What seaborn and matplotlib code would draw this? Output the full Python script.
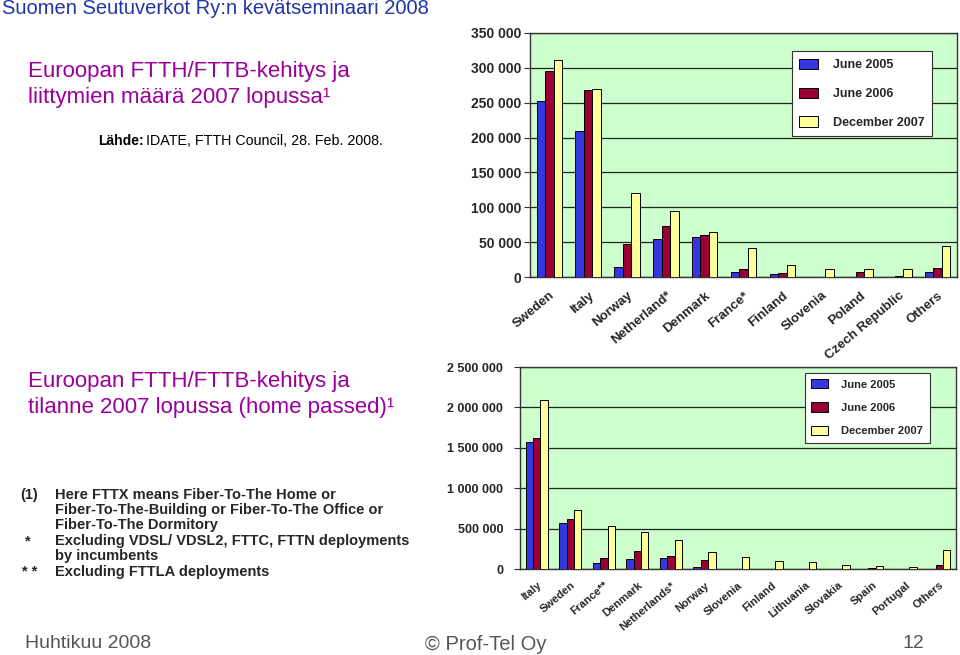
import matplotlib
matplotlib.use("Agg")
import matplotlib.pyplot as plt
import seaborn as sns
import pandas as pd
from matplotlib.ticker import FuncFormatter, FixedLocator

# ---------------- data ----------------
periods = ["June 2005", "June 2006", "December 2007"]

top_countries = ["Sweden", "Italy", "Norway", "Netherland*", "Denmark", "France*",
                 "Finland", "Slovenia", "Poland", "Czech Republic", "Others"]
top_jun2005 = [252000, 210000, 15000, 55000, 57000, 7000, 4000, 0, 0, 0, 7000]
top_jun2006 = [296000, 268000, 47000, 73000, 60000, 11500, 5500, 0, 6700, 1400, 12400]
top_dec2007 = [311000, 269000, 120000, 94000, 64000, 42000, 17000, 11500, 11500, 11500, 44000]
top_ticks = [0, 50000, 100000, 150000, 200000, 250000, 300000, 350000]

bot_countries = ["Italy", "Sweden", "France**", "Denmark", "Netherlands*", "Norway",
                 "Slovenia", "Finland", "Lithuania", "Slovakia", "Spain", "Portugal", "Others"]
bot_jun2005 = [1572000, 571000, 70000, 128000, 136000, 29000, 0, 6000, 0, 0, 6000, 0, 6000]
bot_jun2006 = [1621000, 617000, 136000, 222000, 165000, 111000, 0, 0, 0, 0, 8000, 0, 53000]
bot_dec2007 = [2090000, 732000, 527000, 457000, 354000, 214000, 152000, 95000, 86000, 53000, 41000, 20000, 238000]
bot_ticks = [0, 500000, 1000000, 1500000, 2000000, 2500000]

colors = {"June 2005": "#3636E0", "June 2006": "#990033", "December 2007": "#FFFF99"}


def long_df(cats, a, b, c):
    rows = []
    for p, vals in zip(periods, [a, b, c]):
        for k, v in zip(cats, vals):
            rows.append({"country": k, "period": p, "value": v})
    return pd.DataFrame(rows)


df_top = long_df(top_countries, top_jun2005, top_jun2006, top_dec2007)
df_bot = long_df(bot_countries, bot_jun2005, bot_jun2006, bot_dec2007)

# ---------------- style ----------------
sns.set_theme(style="white")
plt.rcParams["font.family"] = ["Liberation Sans", "DejaVu Sans"]

W, H = 960, 655
fig = plt.figure(figsize=(W / 100, H / 100), dpi=100)
fig.patch.set_facecolor("white")


def px(x, y):
    return x / W, 1 - y / H


def axes_px(l, t, r, b):
    return fig.add_axes([l / W, 1 - b / H, (r - l) / W, (b - t) / H])


fmt = FuncFormatter(lambda v, p: f"{int(v):,}".replace(",", " "))


def draw(ax, df, cats, ticks, ymax, xfs, xpad, yfs, legend_anchor, leg_fs, leg_space, ypad):
    ax.set_facecolor("#CCFFCC")
    sns.barplot(data=df, x="country", y="value", hue="period", order=cats,
                hue_order=periods, palette=colors, width=0.66, gap=0,
                edgecolor="black", linewidth=0.7, saturation=1, ax=ax, zorder=3)
    ax.set_ylim(0, ymax)
    ax.set_xlim(-0.5, len(cats) - 0.5)
    ax.yaxis.set_major_locator(FixedLocator(ticks))
    ax.yaxis.set_major_formatter(fmt)
    ax.grid(axis="y", color="#222222", linewidth=0.9, zorder=0)
    ax.set_axisbelow(True)
    for s in ax.spines.values():
        s.set_color("#333333")
        s.set_linewidth(1.0)
    ax.set_xlabel("")
    ax.set_ylabel("")
    ax.tick_params(axis="y", length=4, width=0.8, color="#333333", pad=ypad,
                   labelsize=yfs, left=True)
    ax.tick_params(axis="x", length=0, pad=xpad)
    for lab in ax.get_yticklabels():
        lab.set_fontweight("bold")
    ax.set_xticks(range(len(cats)))
    ax.set_xticklabels(cats, rotation=40, ha="right", va="top",
                       rotation_mode="anchor", fontsize=xfs, fontweight="bold")
    handles, labels = ax.get_legend_handles_labels()
    leg = ax.legend(handles, labels, loc="upper left", bbox_to_anchor=legend_anchor,
                    frameon=True, fancybox=False, framealpha=1,
                    edgecolor="#333333", facecolor="white", handlelength=1.5,
                    handleheight=0.9, labelspacing=leg_space, borderpad=0.6,
                    handletextpad=1.2, prop={"weight": "bold", "size": leg_fs})
    leg.get_frame().set_linewidth(0.8)
    leg.set_zorder(10)


ax1 = axes_px(530, 33, 957, 277)
draw(ax1, df_top, top_countries, top_ticks, 350000, 9.5, 9, 10,
     (0.598, 0.95), 9, 1.3, 2)

ax2 = axes_px(520, 367, 956, 569)
draw(ax2, df_bot, bot_countries, bot_ticks, 2500000, 8, 8, 9,
     (0.64, 1.0), 8, 1.15, 8)

# ---------------- slide text ----------------
fig.text(*px(2, 9), "Suomen Seutuverkot Ry:n kevätseminaari 2008", fontsize=14.5,
         color="#1F35A5", va="center", ha="left")
fig.text(*px(28, 72), "Euroopan FTTH/FTTB-kehitys ja", fontsize=16,
         color="#990099", va="center", ha="left")
fig.text(*px(28, 97), "liittymien määrä 2007 lopussa¹", fontsize=16,
         color="#990099", va="center", ha="left")
fig.text(*px(98, 141), "Lähde:", fontsize=10, fontweight="bold",
         color="black", va="center", ha="left")
fig.text(*px(146, 141), "IDATE, FTTH Council, 28. Feb. 2008.", fontsize=10.3,
         color="black", va="center", ha="left")

fig.text(*px(28, 382), "Euroopan FTTH/FTTB-kehitys ja", fontsize=16,
         color="#990099", va="center", ha="left")
fig.text(*px(28, 407), "tilanne 2007 lopussa (home passed)¹", fontsize=16,
         color="#990099", va="center", ha="left")

notes = [
    (20, 495, "(1)", "Here FTTX means Fiber-To-The Home or"),
    (20, 510, "", "Fiber-To-The-Building or Fiber-To-The Office or"),
    (20, 525, "", "Fiber-To-The Dormitory"),
    (25, 541, "*", "Excluding VDSL/ VDSL2, FTTC, FTTN deployments"),
    (20, 556, "", "by incumbents"),
    (22, 572, "* *", "Excluding FTTLA deployments"),
]
for x, y, mark, txt in notes:
    if mark:
        fig.text(*px(x, y), mark, fontsize=10.5, fontweight="bold", va="center", ha="left")
    fig.text(*px(55, y), txt, fontsize=10.5, fontweight="bold", va="center", ha="left")

fig.text(*px(25, 643), "Huhtikuu 2008", fontsize=14, color="#555555",
         va="center", ha="left")
fig.text(*px(425, 645), "© Prof-Tel Oy", fontsize=14.5, color="#555555",
         va="center", ha="left")
fig.text(*px(903, 643), "12", fontsize=14, color="#555555", va="center", ha="left")

fig.savefig("out.png", dpi=100, facecolor="white")
